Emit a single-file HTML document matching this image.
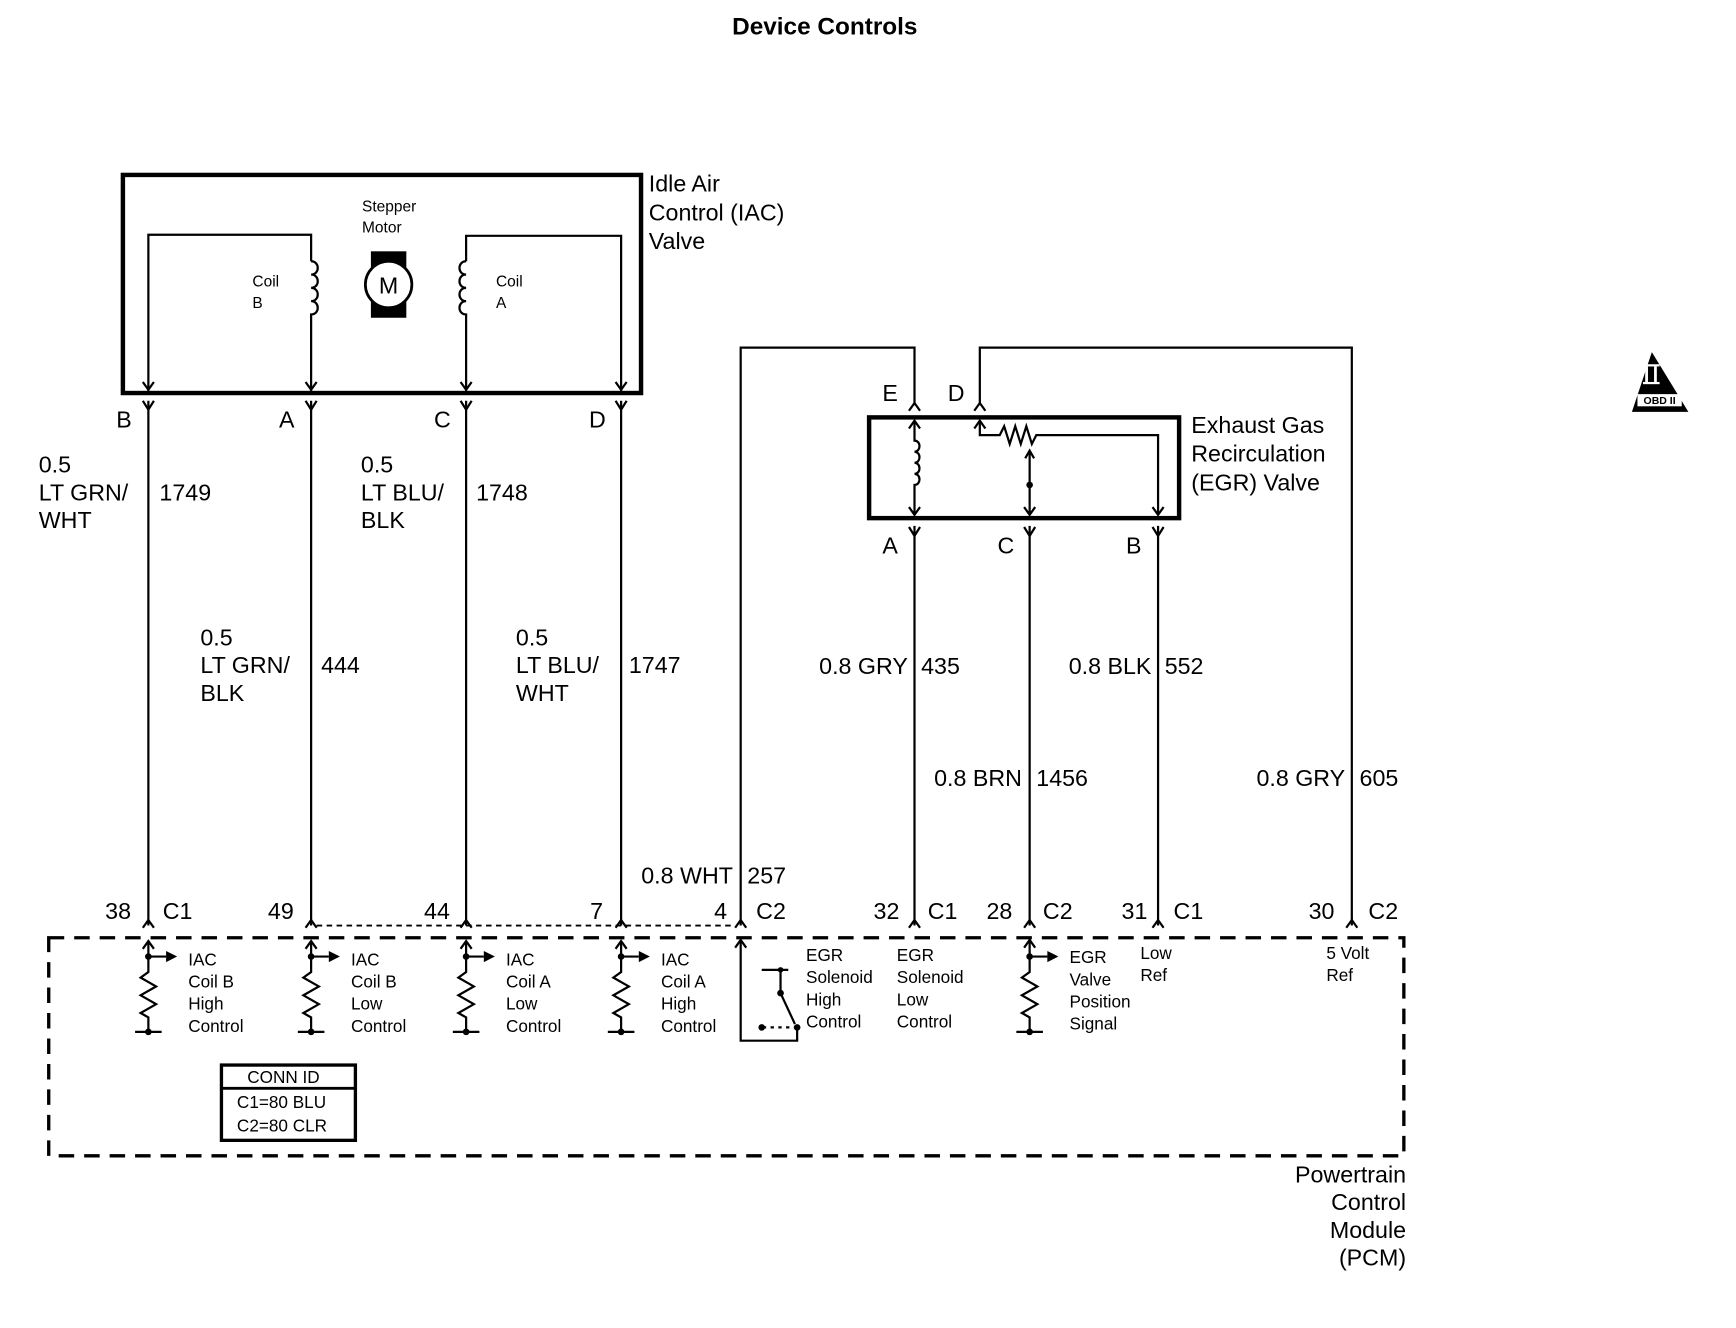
<!DOCTYPE html>
<html><head><meta charset="utf-8"><style>
html,body{margin:0;padding:0;background:#fff;}
svg{display:block;}
text{font-family:"Liberation Sans",Arial,sans-serif;fill:#000;}
.t21{font-size:21px;}
.t16{font-size:15.5px;}
.t14{font-size:14px;}
</style></head><body>
<svg width="1736" height="1328" viewBox="0 0 1568 1199.5" xmlns="http://www.w3.org/2000/svg">
<text x="745" y="31" text-anchor="middle" font-size="22" font-weight="bold">Device Controls</text>

<!-- IAC box -->
<rect x="111" y="158" width="468" height="197" fill="none" stroke="#000" stroke-width="4"/>
<g fill="none" stroke="#000" stroke-width="2">
<path d="M134,353 V212 H281 V236"/>
<path d="M281,236 c8,0 8,12 0,12 c8,0 8,12 0,12 c8,0 8,12 0,12 c8,0 8,12 0,12 V353"/>
<path d="M561,353 V213 H421 V236"/>
<path d="M421,236 c-8,0 -8,12 0,12 c-8,0 -8,12 0,12 c-8,0 -8,12 0,12 c-8,0 -8,12 0,12 V353"/>
<path d="M129,345 L134,352 L139,345 M276,345 L281,352 L286,345 M416,345 L421,352 L426,345 M556,345 L561,352 L566,345"/>
</g>
<rect x="335" y="227" width="32" height="60" fill="#000"/>
<circle cx="351" cy="257" r="21" fill="#fff" stroke="#000" stroke-width="2.5"/>
<text x="351" y="265" text-anchor="middle" font-size="21">M</text>
<text x="327" y="191" class="t14">Stepper</text><text x="327" y="210" class="t14">Motor</text>
<text x="228" y="259" class="t14">Coil</text><text x="228" y="278" class="t14">B</text>
<text x="448" y="259" class="t14">Coil</text><text x="448" y="278" class="t14">A</text>
<text x="586" y="173" class="t21">Idle Air</text>
<text x="586" y="199" class="t21">Control (IAC)</text>
<text x="586" y="225" class="t21">Valve</text>

<!-- IAC wires -->
<g fill="none" stroke="#000" stroke-width="2">
<path d="M134,362 V836 M281,362 V836 M421,362 V836 M561,362 V836"/>
<path d="M129,362 L134,370 L139,362 M276,362 L281,370 L286,362 M416,362 L421,370 L426,362 M556,362 L561,370 L566,362"/>
</g>
<text x="105" y="386" class="t21">B</text><text x="252" y="386" class="t21">A</text>
<text x="392" y="386" class="t21">C</text><text x="532" y="386" class="t21">D</text>

<text x="35" y="427" class="t21">0.5</text><text x="35" y="452" class="t21">LT GRN/</text><text x="35" y="477" class="t21">WHT</text>
<text x="144" y="452" class="t21">1749</text>
<text x="326" y="427" class="t21">0.5</text><text x="326" y="452" class="t21">LT BLU/</text><text x="326" y="477" class="t21">BLK</text>
<text x="430" y="452" class="t21">1748</text>
<text x="181" y="583" class="t21">0.5</text><text x="181" y="608" class="t21">LT GRN/</text><text x="181" y="633" class="t21">BLK</text>
<text x="290" y="608" class="t21">444</text>
<text x="466" y="583" class="t21">0.5</text><text x="466" y="608" class="t21">LT BLU/</text><text x="466" y="633" class="t21">WHT</text>
<text x="568" y="608" class="t21">1747</text>

<!-- EGR wires top -->
<g fill="none" stroke="#000" stroke-width="2">
<path d="M669,836 V314 H826 V366"/>
<path d="M885,366 V314 H1221 V836"/>
<path d="M821,371 L826,364 L831,371 M880,371 L885,364 L890,371"/>
</g>
<text x="797" y="362" class="t21">E</text><text x="856" y="362" class="t21">D</text>
<rect x="785" y="377" width="280" height="91" fill="none" stroke="#000" stroke-width="4"/>
<g fill="none" stroke="#000" stroke-width="2">
<path d="M826,380 V398 c6,0 6,10 0,10 c6,0 6,10 0,10 c6,0 6,10 0,10 c6,0 6,10 0,10 V465"/>
<path d="M821,387 L826,380 L831,387 M821,458 L826,465 L831,458"/>
<path d="M885,380 V393 H903 l4,-8 l5,16 l5,-16 l5,16 l5,-16 l5,16 l4,-8 H1046 V465"/>
<path d="M880,387 L885,380 L890,387 M1041,458 L1046,465 L1051,458"/>
<path d="M930,408 V465 M926,414 L930,407 L934,414 M925,458 L930,465 L935,458"/>
</g>
<circle cx="930" cy="438" r="3" fill="#000"/>
<text x="1076" y="391" class="t21">Exhaust Gas</text>
<text x="1076" y="417" class="t21">Recirculation</text>
<text x="1076" y="443" class="t21">(EGR) Valve</text>
<g fill="none" stroke="#000" stroke-width="2">
<path d="M826,475 V836 M930,475 V836 M1046,475 V836"/>
<path d="M821,476 L826,484 L831,476 M925,476 L930,484 L935,476 M1041,476 L1046,484 L1051,476"/>
</g>
<text x="797" y="500" class="t21">A</text><text x="901" y="500" class="t21">C</text><text x="1017" y="500" class="t21">B</text>

<text x="820" y="609" class="t21" text-anchor="end">0.8 GRY</text><text x="832" y="609" class="t21">435</text>
<text x="1040" y="609" class="t21" text-anchor="end">0.8 BLK</text><text x="1052" y="609" class="t21">552</text>
<text x="923" y="710" class="t21" text-anchor="end">0.8 BRN</text><text x="936" y="710" class="t21">1456</text>
<text x="1215" y="710" class="t21" text-anchor="end">0.8 GRY</text><text x="1228" y="710" class="t21">605</text>
<text x="662" y="798" class="t21" text-anchor="end">0.8 WHT</text><text x="675" y="798" class="t21">257</text>

<!-- pin labels -->
<g class="t21">
<text x="95" y="830">38</text><text x="147" y="830">C1</text>
<text x="242" y="830">49</text><text x="383" y="830">44</text><text x="533" y="830">7</text>
<text x="645" y="830">4</text><text x="683" y="830">C2</text>
<text x="789" y="830">32</text><text x="838" y="830">C1</text>
<text x="891" y="830">28</text><text x="942" y="830">C2</text>
<text x="1013" y="830">31</text><text x="1060" y="830">C1</text>
<text x="1182" y="830">30</text><text x="1236" y="830">C2</text>
</g>
<g fill="none" stroke="#000" stroke-width="2">
<path d="M129,838 L134,831 L139,838 M276,838 L281,831 L286,838 M416,838 L421,831 L426,838 M556,838 L561,831 L566,838 M664,838 L669,831 L674,838 M821,838 L826,831 L831,838 M925,838 L930,831 L935,838 M1041,838 L1046,831 L1051,838 M1216,838 L1221,831 L1226,838"/>
<path d="M286,836 H664" stroke-dasharray="5,4" stroke-width="1.6"/>
</g>

<!-- PCM box -->
<rect x="44" y="847" width="1224" height="197" fill="none" stroke="#000" stroke-width="3" stroke-dasharray="14,9"/>

<!-- IAC drivers -->
<g id="drv" fill="none" stroke="#000" stroke-width="2">
<path d="M134,850 V878 l-7,5 l14,8 l-14,8 l14,8 l-14,8 l7,4 V932 M122,932 H146"/>
<path d="M129,857 L134,850 L139,857"/>
<path d="M134,864 H150"/>
</g>
<path d="M150,859 L160,864 L150,869 Z" fill="#000"/>
<circle cx="134" cy="864" r="3" fill="#000"/><circle cx="134" cy="932" r="3" fill="#000"/>
<use href="#drv" x="147"/><use href="#drv" x="287"/><use href="#drv" x="427"/>
<path d="M297,859 L307,864 L297,869 Z M437,859 L447,864 L437,869 Z M577,859 L587,864 L577,869 Z" fill="#000"/>
<circle cx="281" cy="864" r="3" fill="#000"/><circle cx="281" cy="932" r="3" fill="#000"/>
<circle cx="421" cy="864" r="3" fill="#000"/><circle cx="421" cy="932" r="3" fill="#000"/>
<circle cx="561" cy="864" r="3" fill="#000"/><circle cx="561" cy="932" r="3" fill="#000"/>
<g class="t16">
<text x="170" y="872">IAC</text><text x="170" y="892">Coil B</text><text x="170" y="912">High</text><text x="170" y="932">Control</text>
<text x="317" y="872">IAC</text><text x="317" y="892">Coil B</text><text x="317" y="912">Low</text><text x="317" y="932">Control</text>
<text x="457" y="872">IAC</text><text x="457" y="892">Coil A</text><text x="457" y="912">Low</text><text x="457" y="932">Control</text>
<text x="597" y="872">IAC</text><text x="597" y="892">Coil A</text><text x="597" y="912">High</text><text x="597" y="932">Control</text>
</g>

<!-- EGR solenoid driver -->
<g fill="none" stroke="#000" stroke-width="2">
<path d="M669,849 V940 H720 V928"/>
<path d="M664,856 L669,849 L674,856"/>
<path d="M688,876 H712 M705,876 V897 L718,925"/>
<path d="M689,928 H718" stroke-dasharray="3,4"/>
</g>
<circle cx="705" cy="876" r="2.5" fill="#000"/><circle cx="705" cy="897" r="3" fill="#000"/>
<circle cx="688" cy="928" r="3" fill="#000"/><circle cx="720" cy="928" r="3" fill="#000"/>
<g class="t16">
<text x="728" y="868">EGR</text><text x="728" y="888">Solenoid</text><text x="728" y="908">High</text><text x="728" y="928">Control</text>
<text x="810" y="868">EGR</text><text x="810" y="888">Solenoid</text><text x="810" y="908">Low</text><text x="810" y="928">Control</text>
</g>
<g fill="none" stroke="#000" stroke-width="2">
<path d="M930,849 V878 l-7,5 l14,8 l-14,8 l14,8 l-14,8 l7,4 V932 M918,932 H942"/>
<path d="M925,856 L930,849 L935,856 M930,864 H946"/>
</g>
<path d="M946,859 L956,864 L946,869 Z" fill="#000"/>
<circle cx="930" cy="864" r="3" fill="#000"/><circle cx="930" cy="932" r="3" fill="#000"/>
<g class="t16">
<text x="966" y="870">EGR</text><text x="966" y="890">Valve</text><text x="966" y="910">Position</text><text x="966" y="930">Signal</text>
<text x="1030" y="866">Low</text><text x="1030" y="886">Ref</text>
<text x="1198" y="866">5 Volt</text><text x="1198" y="886">Ref</text>
</g>

<!-- CONN ID -->
<rect x="200" y="962" width="121" height="68" fill="none" stroke="#000" stroke-width="3"/>
<path d="M200,983 H321" stroke="#000" stroke-width="2.5"/>
<text x="256" y="978" text-anchor="middle" class="t16">CONN ID</text>
<text x="214" y="1001" class="t16">C1=80 BLU</text>
<text x="214" y="1022" class="t16">C2=80 CLR</text>

<g class="t21" text-anchor="end">
<text x="1270" y="1068">Powertrain</text><text x="1270" y="1093">Control</text>
<text x="1270" y="1118">Module</text><text x="1270" y="1143">(PCM)</text>
</g>

<!-- OBD II -->
<path d="M1492,318 L1525,372 L1474,372 Z" fill="#000"/>
<rect x="1486" y="331" width="2.5" height="14" fill="#fff"/><rect x="1494" y="331" width="2.5" height="14" fill="#fff"/>
<rect x="1484" y="329" width="15" height="2" fill="#fff"/><rect x="1484" y="345" width="15" height="2" fill="#fff"/>
<rect x="1479" y="356" width="40" height="11" fill="#fff"/>
<text x="1499" y="365" text-anchor="middle" font-size="9.5" font-weight="bold">OBD II</text>
</svg>
</body></html>
